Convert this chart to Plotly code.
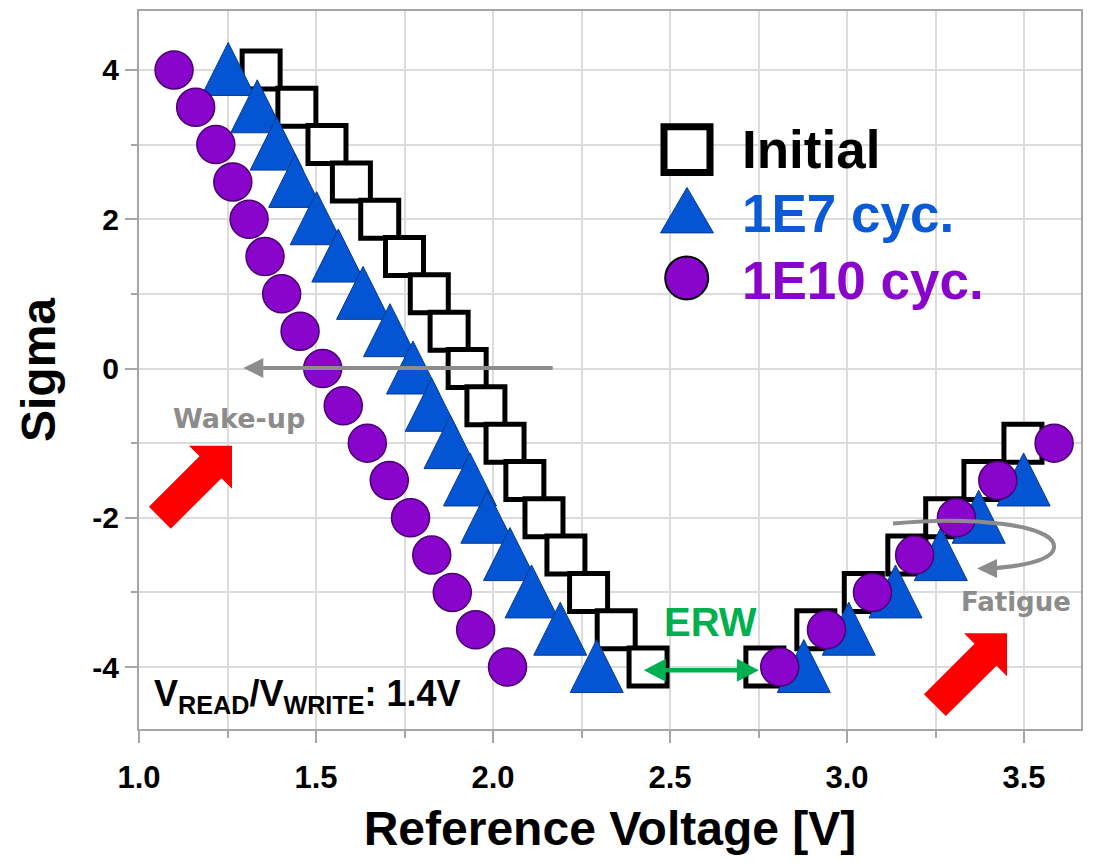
import math
import plotly.graph_objects as go

# ---------------- data ----------------
sigma_left = [4, 3.5, 3, 2.5, 2, 1.5, 1, 0.5, 0, -0.5, -1, -1.5, -2, -2.5, -3, -3.5, -4]
sigma_right7 = [-4, -3.5, -3, -2.5, -2, -1.5, -1]
sigma_right6 = [-4, -3.5, -3, -2.5, -2, -1.5]

init_left_v = [1.345, 1.446, 1.531, 1.600, 1.680, 1.750, 1.820, 1.876, 1.927, 1.980,
               2.034, 2.090, 2.144, 2.206, 2.270, 2.348, 2.438]
init_right_v = [2.768, 2.912, 3.046, 3.169, 3.276, 3.384, 3.497]

e7_left_v = [1.252, 1.334, 1.389, 1.441, 1.502, 1.563, 1.633, 1.709, 1.774, 1.827,
             1.880, 1.935, 1.984, 2.048, 2.109, 2.190, 2.293]
e7_right_v = [2.878, 3.005, 3.137, 3.265, 3.372, 3.499]

e10_left_v = [1.099, 1.160, 1.217, 1.265, 1.311, 1.356, 1.403, 1.455, 1.519, 1.577,
              1.645, 1.707, 1.767, 1.827, 1.885, 1.951, 2.041]
e10_right_v = [2.810, 2.942, 3.072, 3.191, 3.309, 3.426, 3.585]

series_names = ["Initial", "1E7 cyc.", "1E10 cyc."]
x_ticks = [1.0, 1.5, 2.0, 2.5, 3.0, 3.5]
y_ticks = [4, 2, 0, -2, -4]

# ---------------- style ----------------
OFF = 8                      # default body margin of the html page
W, H = 1094 - 2 * OFF, 863 - 2 * OFF
PL, PR, PT, PB = 139, 1081, 9, 729   # plot area in page pixels
BLUE = "#0455d3"
BLUE_EDGE = "#0a3a8a"
PURPLE = "#8a05cc"
PURPLE_EDGE = "#4a0070"
GRAY = "#8c8c8c"
GREEN = "#00b050"
RED = "#ff0000"
ARIAL = "Liberation Sans, Arial, sans-serif"
VERD = "DejaVu Sans, Verdana, sans-serif"


def pp(xp, yp):
    """page pixel position -> paper coordinates"""
    return (xp - PL) / (PR - PL), (PB - yp) / (PB - PT)


def ppath(points, close=True):
    s = ""
    for i, (a, b) in enumerate(points):
        xa, yb = pp(a, b)
        s += ("M" if i == 0 else "L") + f"{xa:.5f},{yb:.5f}"
    return s + ("Z" if close else "")


fig = go.Figure()

init_x = init_left_v + init_right_v
init_y = sigma_left + sigma_right7
e7_x = e7_left_v + e7_right_v
e7_y = sigma_left + sigma_right6
e10_x = e10_left_v + e10_right_v
e10_y = sigma_left + sigma_right7

# data traces (squares and triangles are drawn as pixel-sized shapes anchored
# at the data points so that their proportions match; circles are markers)
fig.add_trace(go.Scatter(x=init_x, y=init_y, mode="markers", name=series_names[0],
                         marker=dict(symbol="square", size=38, color="white", opacity=0,
                                     line=dict(color="black", width=5))))
fig.add_trace(go.Scatter(x=e7_x, y=e7_y, mode="markers", name=series_names[1],
                         marker=dict(symbol="triangle-up", size=40, color=BLUE, opacity=0)))
fig.add_trace(go.Scatter(x=e10_x, y=e10_y, mode="markers", name=series_names[2],
                         marker=dict(symbol="circle", size=38, color=PURPLE,
                                     line=dict(color=PURPLE_EDGE, width=1.5))))

shapes = []
hs = 19
for xv, yv in zip(init_x, init_y):
    shapes.append(dict(type="path", layer="between", xref="x", yref="y",
                       xsizemode="pixel", ysizemode="pixel", xanchor=xv, yanchor=yv,
                       path=f"M{-hs},{-hs}L{hs},{-hs}L{hs},{hs}L{-hs},{hs}Z",
                       fillcolor="white", line=dict(color="black", width=5)))
for xv, yv in zip(e7_x, e7_y):
    shapes.append(dict(type="path", layer="between", xref="x", yref="y",
                       xsizemode="pixel", ysizemode="pixel", xanchor=xv, yanchor=yv,
                       path="M-26.5,-25.5L26.5,-25.5L0,27.5Z",
                       fillcolor=BLUE, line=dict(color=BLUE_EDGE, width=1)))


# red block arrows
def block_arrow(tx, ty, total=102, head=30.4, half_head=30.4, half_shaft=15.5):
    d = (1 / math.sqrt(2), -1 / math.sqrt(2))
    n = (1 / math.sqrt(2), 1 / math.sqrt(2))
    bx, by = tx - head * d[0], ty - head * d[1]
    cx, cy = tx - total * d[0], ty - total * d[1]
    pts = [
        (cx - half_shaft * n[0], cy - half_shaft * n[1]),
        (bx - half_shaft * n[0], by - half_shaft * n[1]),
        (bx - half_head * n[0], by - half_head * n[1]),
        (tx, ty),
        (bx + half_head * n[0], by + half_head * n[1]),
        (bx + half_shaft * n[0], by + half_shaft * n[1]),
        (cx + half_shaft * n[0], cy + half_shaft * n[1]),
    ]
    return ppath(pts)


for tip in [(232, 445), (1007, 633)]:
    shapes.append(dict(type="path", layer="above", xref="paper", yref="paper",
                       path=block_arrow(*tip), fillcolor=RED, line=dict(width=0)))


def line_shape(p0, p1, color, width):
    x0, y0 = pp(*p0)
    x1, y1 = pp(*p1)
    return dict(type="line", layer="above", xref="paper", yref="paper",
                x0=x0, y0=y0, x1=x1, y1=y1, line=dict(color=color, width=width))


def head_shape(tip, direction, length, half, color):
    tx, ty = tip
    dx = direction
    pts = [(tx, ty), (tx - dx * length, ty - half), (tx - dx * length, ty + half)]
    return dict(type="path", layer="above", xref="paper", yref="paper",
                path=ppath(pts), fillcolor=color, line=dict(width=0))


# wake-up arrow (pointing left along sigma = 0)
shapes.append(line_shape((552.7, 367), (258, 367), GRAY, 4))
shapes.append(head_shape((243.3, 367), -1, 20, 10, GRAY))

# ERW double arrow
shapes.append(line_shape((660, 670), (742, 670), GREEN, 4.5))
shapes.append(head_shape((643.8, 670), -1, 22, 11.5, GREEN))
shapes.append(head_shape((758.9, 670), 1, 22, 11.5, GREEN))


# fatigue curved arrow
def cpath(seq):
    out = ""
    for cmd, pts in seq:
        out += cmd + " ".join("%.5f,%.5f" % pp(a, b) for a, b in pts)
    return out


shapes.append(dict(type="path", layer="above", xref="paper", yref="paper",
                   path=cpath([("M", [(893, 523)]),
                               ("C", [(975, 515), (1052, 525), (1054, 545)]),
                               ("C", [(1056, 560), (1020, 566), (990, 568)])]),
                   line=dict(color=GRAY, width=4)))
shapes.append(head_shape((977, 568), -1, 20, 9.5, GRAY))

# legend symbols
sx0, sy0 = pp(664, 125)
sx1, sy1 = pp(710, 171)
shapes.append(dict(type="rect", layer="above", xref="paper", yref="paper",
                   x0=sx0, x1=sx1, y0=sy0, y1=sy1, fillcolor="white",
                   line=dict(color="black", width=7)))
shapes.append(dict(type="path", layer="above", xref="paper", yref="paper",
                   path=ppath([(660.5, 231.5), (713.5, 231.5), (687, 186)]),
                   fillcolor=BLUE, line=dict(color=BLUE_EDGE, width=1)))
cx0, cy0 = pp(665.2, 255.2)
cx1, cy1 = pp(708.2, 298.2)
shapes.append(dict(type="circle", layer="above", xref="paper", yref="paper",
                   x0=cx0, x1=cx1, y0=cy0, y1=cy1, fillcolor=PURPLE,
                   line=dict(color="black", width=2)))

annotations = []


def text_ann(txt, xp, yp, size, color, family=ARIAL, xanchor="center"):
    xa, ya = pp(xp, yp)
    return dict(text=txt, x=xa, y=ya, xref="paper", yref="paper", showarrow=False,
                xanchor=xanchor, yanchor="middle",
                font=dict(family=family, size=size, color=color, weight="bold"))


# legend texts
annotations.append(text_ann(series_names[0], 740, 148, 53, "black", xanchor="left"))
annotations.append(text_ann(series_names[1], 740, 212, 53, "#0a5ad6", xanchor="left"))
annotations.append(text_ann(series_names[2], 740, 279, 53, "#8a05cc", xanchor="left"))

# annotation labels
annotations.append(text_ann("Wake-up", 239, 418, 27, GRAY, family=VERD))
annotations.append(text_ann("Fatigue", 1016, 602, 26, GRAY, family=VERD))
annotations.append(text_ann("ERW", 710, 622, 40, GREEN))
annotations.append(text_ann("V<sub>READ</sub>/V<sub>WRITE</sub>: 1.4V", 152, 696, 36,
                            "black", xanchor="left"))

axis_common = dict(showline=True, linecolor="#a6a6a6", linewidth=2, mirror=True,
                   ticks="outside", ticklen=12, tickwidth=2, tickcolor="#a6a6a6",
                   showgrid=True, gridcolor="#dcdcdc", gridwidth=1.5, zeroline=False)

fig.update_layout(
    width=W, height=H, autosize=False,
    margin=dict(l=PL - OFF, r=(OFF + W) - PR, t=PT - OFF, b=(OFF + H) - PB),
    paper_bgcolor="white", plot_bgcolor="white",
    showlegend=False,
    xaxis=dict(range=[1.0, 3.661], tickvals=x_ticks, ticktext=[f"{v:.1f}" for v in x_ticks],
               ticklabelstandoff=8,
               tickfont=dict(family=ARIAL, size=31, color="black", weight="bold"),
               minor=dict(dtick=0.25, tick0=1.0, ticks="outside", ticklen=7, tickwidth=2,
                          tickcolor="#a6a6a6", showgrid=True, gridcolor="#dcdcdc",
                          gridwidth=1.5),
               title=dict(text="Reference Voltage [V]", standoff=24,
                          font=dict(family=ARIAL, size=48, color="black", weight="bold")),
               **axis_common),
    yaxis=dict(range=[-4.83, 4.79], tickvals=y_ticks, ticktext=[str(v) for v in y_ticks],
               tickfont=dict(family=ARIAL, size=30, color="black", weight="bold"),
               minor=dict(dtick=1, tick0=0, ticks="outside", ticklen=6, tickwidth=2,
                          tickcolor="#a6a6a6", showgrid=True, gridcolor="#dcdcdc",
                          gridwidth=1.5),
               title=dict(text="Sigma", standoff=22,
                          font=dict(family=ARIAL, size=48, color="black", weight="bold")),
               **axis_common),
    shapes=shapes,
    annotations=annotations,
)

fig.write_html("out.html")
